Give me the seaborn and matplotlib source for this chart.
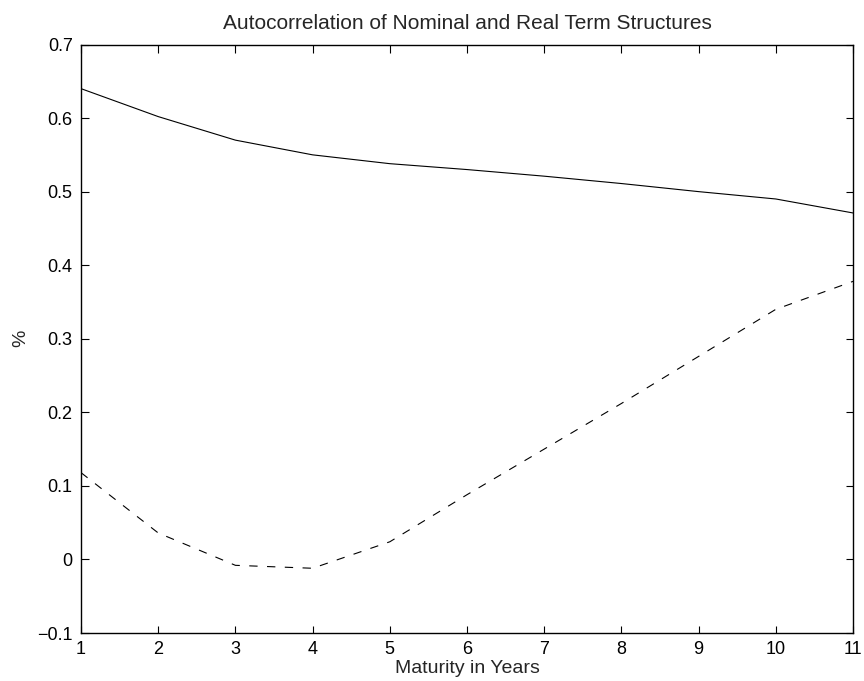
import matplotlib
matplotlib.use("Agg")
import matplotlib.pyplot as plt
from matplotlib.ticker import FuncFormatter
import seaborn as sns
import pandas as pd

# valeurs
maturity = [1, 2, 3, 4, 5, 6, 7, 8, 9, 10, 11]
nominal = [0.640, 0.602, 0.570, 0.550, 0.538, 0.530, 0.521, 0.511, 0.500, 0.490, 0.471]
real = [0.118, 0.036, -0.008, -0.012, 0.024, 0.088, 0.150, 0.212, 0.276, 0.340, 0.378]
series_names = ["Nominal", "Real"]

df = pd.DataFrame({
    "Maturity": maturity * 2,
    "Autocorr": nominal + real,
    "Series": [series_names[0]] * len(maturity) + [series_names[1]] * len(maturity),
})

sns.set_theme(style="white")
plt.rcParams["font.family"] = ["Liberation Sans", "DejaVu Sans"]
plt.rcParams["lines.scale_dashes"] = False

fig, ax = plt.subplots(figsize=(8.64, 6.81), dpi=100)
fig.subplots_adjust(left=81 / 864, right=853 / 864, bottom=1 - 633 / 681, top=1 - 44.5 / 681)

sns.lineplot(data=df, x="Maturity", y="Autocorr", style="Series",
             dashes={"Nominal": "", "Real": (6, 6.8)},
             color="black", linewidth=0.8, legend=False, ax=ax)

ax.set_xlim(1, 11)
ax.set_ylim(-0.1, 0.7)
ax.set_xticks(maturity)
ax.set_yticks([-0.1, 0, 0.1, 0.2, 0.3, 0.4, 0.5, 0.6, 0.7])
ax.yaxis.set_major_formatter(FuncFormatter(lambda v, p: f"{v:g}".replace("-", "\u2212")))

ax.tick_params(direction="in", length=5.4, width=0.8, labelsize=13, colors="black",
               top=True, right=True, bottom=True, left=True, pad=6)
for s in ax.spines.values():
    s.set_color("black")
    s.set_linewidth(1.0)

ax.set_title("Autocorrelation of Nominal and Real Term Structures", fontsize=15, pad=11)
ax.set_xlabel("Maturity in Years", fontsize=14, labelpad=1.5)
ax.set_ylabel("%", fontsize=14, labelpad=6)

fig.savefig("out.png", dpi=100, facecolor="white")
